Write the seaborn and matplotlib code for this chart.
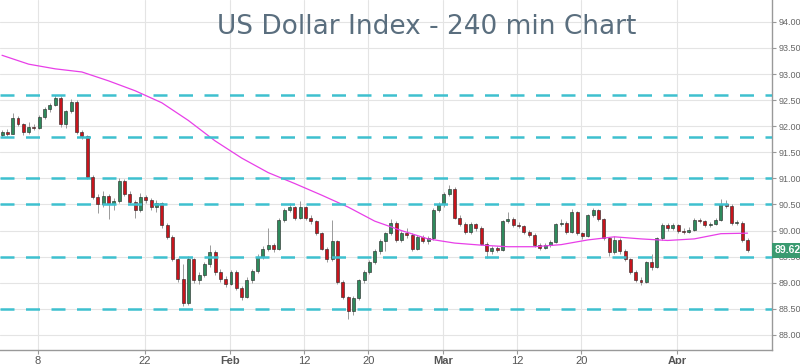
import numpy as np
import pandas as pd
import matplotlib
matplotlib.use("Agg")
import matplotlib.pyplot as plt
import matplotlib.transforms as mtransforms
import seaborn as sns

# candles, two per trading day
opens = [91.84, 91.88, 91.86, 92.16, 92.04, 91.88, 91.99, 91.96, 92.18, 92.33,
         92.40, 92.55, 92.05, 92.30, 92.46, 91.88, 91.82, 91.02, 90.65, 90.50,
         90.66, 90.50, 90.56, 90.95, 90.70, 90.55, 90.40, 90.65, 90.58, 90.45,
         90.52, 90.10, 89.88, 89.45, 89.08, 88.62, 89.45, 89.05, 89.15, 89.35,
         89.58, 89.20, 89.08, 88.98, 89.20, 88.90, 88.72, 89.05, 89.22, 89.50,
         89.65, 89.72, 89.64, 90.20, 90.40, 90.46, 90.25, 90.45, 90.25, 90.18,
         89.95, 89.65, 89.45, 89.80, 89.02, 88.72, 88.45, 88.70, 89.05, 89.20,
         89.40, 89.60, 89.80, 89.95, 90.15, 89.82, 89.95, 89.92, 89.65, 89.88,
         89.80, 89.85, 90.40, 90.50, 90.70, 90.80, 90.25, 90.12, 89.97, 90.12,
         90.05, 89.75, 89.60, 89.66, 89.62, 90.18, 90.22, 90.10, 90.08, 89.98,
         89.92, 89.72, 89.67, 89.72, 89.78, 90.12, 90.15, 89.98, 90.35, 89.95,
         89.90, 90.30, 90.40, 90.22, 89.85, 89.58, 89.82, 89.60, 89.45, 89.20,
         89.05, 89.02, 89.40, 89.30, 89.85, 90.10, 90.05, 90.10, 90.00, 89.98,
         90.02, 90.20, 90.18, 90.10, 90.12, 90.20, 90.50, 90.48, 90.15, 90.15,
         89.82]
highs = [91.92, 91.95, 92.25, 92.20, 92.06, 92.08, 92.04, 92.22, 92.36, 92.44,
         92.60, 92.58, 92.32, 92.52, 92.50, 91.92, 91.84, 91.06, 90.70, 90.76,
         90.70, 90.62, 91.00, 90.98, 90.76, 90.58, 90.72, 90.68, 90.62, 90.58,
         90.55, 90.14, 89.92, 89.48, 89.35, 89.52, 89.48, 89.20, 89.40, 89.72,
         89.62, 89.26, 89.12, 89.25, 89.24, 88.94, 89.10, 89.26, 89.55, 89.70,
         90.05, 89.76, 90.24, 90.44, 90.52, 90.48, 90.56, 90.48, 90.30, 90.20,
         89.98, 89.68, 90.20, 89.82, 89.06, 88.75, 88.74, 89.08, 89.24, 89.44,
         89.64, 89.84, 89.98, 90.22, 90.18, 90.00, 90.05, 89.95, 89.92, 89.92,
         89.90, 90.44, 90.54, 90.74, 90.88, 90.84, 90.30, 90.16, 90.16, 90.15,
         90.08, 89.78, 89.70, 89.70, 90.20, 90.35, 90.26, 90.16, 90.10, 90.02,
         89.95, 89.76, 89.76, 89.82, 90.15, 90.22, 90.18, 90.42, 90.38, 89.98,
         90.32, 90.44, 90.42, 90.25, 89.88, 89.90, 89.85, 89.64, 89.48, 89.24,
         89.10, 89.42, 89.55, 89.88, 90.14, 90.14, 90.14, 90.12, 90.04, 90.06,
         90.24, 90.24, 90.20, 90.16, 90.24, 90.60, 90.58, 90.50, 90.20, 90.18,
         89.86]
lows = [91.80, 91.82, 91.85, 92.00, 91.84, 91.86, 91.92, 91.94, 92.14, 92.28,
        92.38, 91.98, 91.96, 92.26, 91.86, 91.76, 90.98, 90.60, 90.34, 90.46,
        90.22, 90.40, 90.52, 90.66, 90.50, 90.25, 90.36, 90.52, 90.40, 90.36,
        90.05, 89.84, 89.42, 89.02, 88.55, 88.58, 89.00, 88.98, 89.10, 89.30,
        89.15, 89.02, 88.92, 88.95, 88.86, 88.66, 88.70, 89.00, 89.18, 89.45,
        89.60, 89.58, 89.62, 90.16, 90.36, 90.20, 90.22, 90.20, 90.12, 89.92,
        89.62, 89.40, 89.42, 88.98, 88.68, 88.30, 88.38, 88.66, 89.00, 89.16,
        89.36, 89.55, 89.60, 89.92, 89.78, 89.78, 89.86, 89.60, 89.62, 89.76,
        89.74, 89.82, 90.36, 90.46, 90.66, 90.22, 90.08, 89.94, 89.94, 90.00,
        89.72, 89.48, 89.56, 89.58, 89.60, 90.14, 90.06, 90.04, 89.94, 89.88,
        89.68, 89.62, 89.64, 89.68, 89.76, 90.08, 89.94, 89.96, 89.92, 89.84,
        89.88, 90.26, 90.18, 89.82, 89.52, 89.55, 89.56, 89.42, 89.16, 89.02,
        88.95, 89.00, 89.25, 89.28, 89.82, 90.00, 90.02, 89.96, 89.94, 89.95,
        90.00, 90.14, 90.06, 90.06, 90.10, 90.18, 90.44, 90.10, 90.10, 89.78,
        89.58]
closes = [91.88, 91.86, 92.16, 92.04, 91.88, 91.99, 91.96, 92.18, 92.33, 92.40,
          92.55, 92.05, 92.30, 92.46, 91.88, 91.82, 91.02, 90.65, 90.50, 90.66,
          90.50, 90.56, 90.95, 90.70, 90.55, 90.40, 90.65, 90.58, 90.45, 90.52,
          90.10, 89.88, 89.45, 89.08, 88.62, 89.45, 89.05, 89.15, 89.35, 89.58,
          89.20, 89.08, 88.98, 89.20, 88.90, 88.72, 89.05, 89.22, 89.50, 89.65,
          89.72, 89.64, 90.20, 90.40, 90.46, 90.25, 90.45, 90.25, 90.18, 89.95,
          89.65, 89.45, 89.80, 89.02, 88.72, 88.45, 88.70, 89.05, 89.20, 89.40,
          89.60, 89.80, 89.95, 90.15, 89.82, 89.95, 89.92, 89.65, 89.88, 89.80,
          89.85, 90.40, 90.50, 90.70, 90.80, 90.25, 90.12, 89.97, 90.12, 90.05,
          89.75, 89.60, 89.66, 89.62, 90.18, 90.22, 90.10, 90.08, 89.98, 89.92,
          89.72, 89.67, 89.72, 89.78, 90.12, 90.15, 89.98, 90.35, 89.95, 89.90,
          90.30, 90.40, 90.22, 89.85, 89.58, 89.82, 89.60, 89.45, 89.20, 89.05,
          89.02, 89.40, 89.30, 89.85, 90.10, 90.05, 90.10, 90.00, 89.98, 90.02,
          90.20, 90.18, 90.10, 90.12, 90.20, 90.50, 90.48, 90.15, 90.15, 89.82,
          89.62]

# moving average, sampled every 5 candles
ma_values = [93.36, 93.19, 93.10, 93.04, 92.87, 92.68, 92.45, 92.11, 91.72, 91.39,
             91.11, 90.90, 90.68, 90.45, 90.18, 90.00, 89.84, 89.76, 89.72, 89.69,
             89.69, 89.73, 89.82, 89.88, 89.84, 89.81, 89.84, 89.94, 89.95]
ma_every = 5

levels = [92.6, 91.8, 91.0, 90.5, 89.5, 88.5]

tick_dates = ["2018-01-08", "2018-01-22", "2018-02-01", "2018-02-12", "2018-02-20",
              "2018-03-01", "2018-03-12", "2018-03-20", "2018-04-01"]
tick_labels = ["8", "22", "Feb", "12", "20", "Mar", "12", "20", "Apr"]
month_labels = ["Feb", "Mar", "Apr"]


def main():
    sns.set_theme(style="whitegrid")
    plt.rcParams["font.family"] = ["Liberation Sans", "DejaVu Sans"]

    # x axis in trading days counted from 3 Jan 2018
    origin = "2018-01-03"
    df = pd.DataFrame({"open": opens, "high": highs, "low": lows, "close": closes})
    df["t"] = -0.38 + 0.5 * np.arange(len(df))
    up = df["close"] >= df["open"]

    fig = plt.figure(figsize=(8, 3.64), dpi=100)
    ax = fig.add_axes([0, 14 / 364, 772 / 800, 350 / 364])
    ax.set_facecolor("white")

    # wicks + bodies
    ax.vlines(df["t"], df["low"], df["high"], color="#9a9a9a", lw=0.7, zorder=3)
    body_h = (df["close"] - df["open"]).abs().clip(lower=0.02)
    body_b = df[["open", "close"]].min(axis=1)
    ax.bar(df["t"], body_h, bottom=body_b, width=0.28,
           color=np.where(up, "#2e8a5c", "#c8141c"),
           edgecolor="#222222", linewidth=0.4, zorder=4)

    ma_t = df["t"].values[::ma_every][:len(ma_values)]
    sns.lineplot(x=ma_t, y=ma_values, color="#e83fe8", lw=0.9, ax=ax, zorder=4)

    for lv in levels:
        ax.axhline(lv, color="#3ec0cf", lw=1.8, dashes=(5.6, 4.6), zorder=5)

    tick_pos = [np.busday_count(origin, d) for d in tick_dates]
    ax.set_xticks(tick_pos)
    ax.set_xticklabels(tick_labels)
    for lab in ax.get_xticklabels():
        if lab.get_text() in month_labels:
            lab.set_fontweight("bold")
    ax.set_xlim(-0.57, 71.92)

    yt = np.arange(88, 94.01, 0.5)
    ax.yaxis.tick_right()
    ax.set_yticks(yt)
    ax.set_yticklabels([f"{v:.2f}" for v in yt])
    ax.set_ylim(87.71, 94.42)

    ax.grid(True, color="#e4e4e4", lw=0.8)
    ax.tick_params(axis="y", which="both", right=True, length=3, width=0.8,
                   color="#999999", labelsize=6.5, labelcolor="#666666", pad=1.5)
    ax.tick_params(axis="x", bottom=True, length=3, width=0.8,
                   color="#999999", labelsize=8, labelcolor="#555555", pad=1)
    for side in ["top", "left"]:
        ax.spines[side].set_visible(False)
    for side in ["right", "bottom"]:
        ax.spines[side].set_color("#999999")
        ax.spines[side].set_linewidth(1)

    ax.text(0.553, 0.923, "US Dollar Index - 240 min Chart", transform=ax.transAxes,
            ha="center", va="center", fontsize=19, color="#5a6e7e",
            family="DejaVu Sans")

    # last price tag on the axis
    trans = mtransforms.blended_transform_factory(ax.transAxes, ax.transData)
    last = closes[-1]
    ax.text(1.003, last, f"{last:.2f}", transform=trans, ha="left", va="center",
            fontsize=7.5, fontweight="bold", color="white", clip_on=False, zorder=10,
            bbox=dict(boxstyle="square,pad=0.22", fc="#3a9a70", ec="none"))

    fig.savefig("out.png", dpi=100)
    plt.close(fig)


if __name__ == "__main__":
    main()
